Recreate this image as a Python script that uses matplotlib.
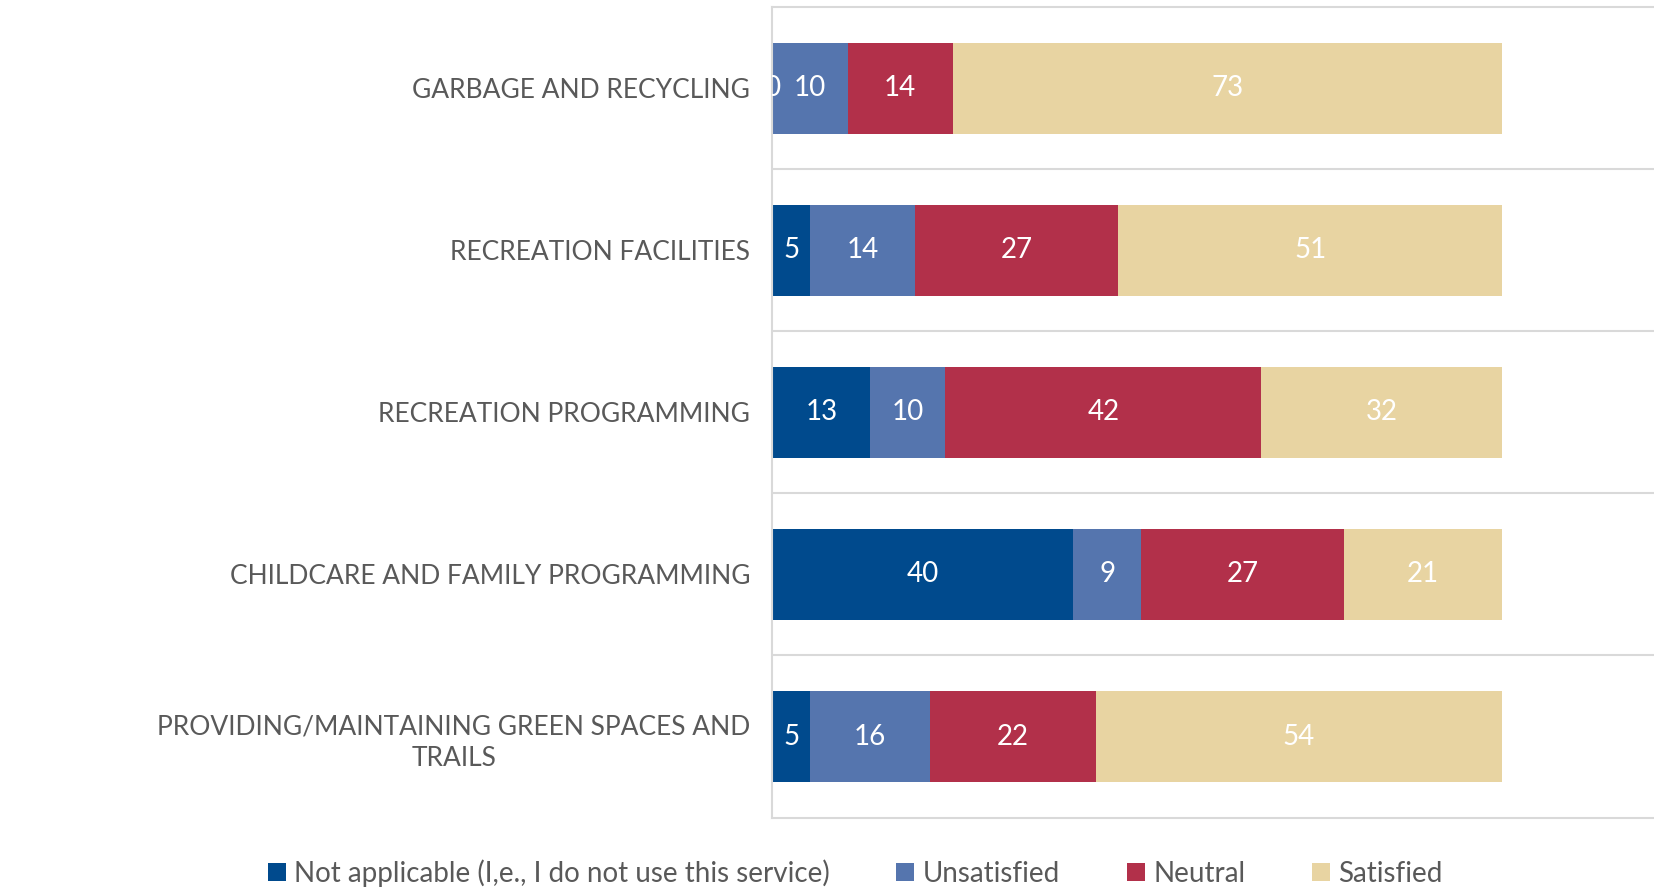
import numpy as np
import matplotlib.pyplot as plt

plt.rcParams['font.family'] = ['Lato', 'DejaVu Sans']

# data (top to bottom as in the chart)
categories = ['GARBAGE AND RECYCLING',
              'RECREATION FACILITIES',
              'RECREATION PROGRAMMING',
              'CHILDCARE AND FAMILY PROGRAMMING',
              'PROVIDING/MAINTAINING GREEN SPACES AND\nTRAILS']
series_names = ['Not applicable (I,e., I do not use this service)',
                'Unsatisfied', 'Neutral', 'Satisfied']
not_applicable = [0, 5, 13, 40, 5]
unsatisfied = [10, 14, 10, 9, 16]
neutral = [14, 27, 42, 27, 22]
satisfied = [73, 51, 32, 21, 54]

colors = ['#004A8D', '#5575AE', '#B2304A', '#E8D4A2']
series = [not_applicable, unsatisfied, neutral, satisfied]

fig = plt.figure(figsize=(16.54, 8.89), dpi=100)
ax = fig.add_axes([0.467, 0.0804, 0.533, 0.9113])

y = np.arange(len(categories))
left = np.zeros(len(categories))
for name, vals, col in zip(series_names, series, colors):
    vals = np.array(vals, dtype=float)
    ax.barh(y, vals, left=left, height=0.56, color=col, label=name)
    for yi, (l, v) in enumerate(zip(left, vals)):
        ax.text(l + v / 2, yi, str(int(v)), ha='center', va='center',
                color='white', fontsize=20, clip_on=True)
    left += vals

ax.set_xlim(0, 117.2)
ax.set_ylim(len(categories) - 0.5, -0.5)
ax.set_yticks(y)
ax.set_yticklabels(categories, fontsize=19, color='#595959',
                   multialignment='center', linespacing=1.35)
ax.tick_params(axis='y', length=0, pad=16)
ax.tick_params(axis='x', bottom=False, labelbottom=False)

ax.set_yticks(np.arange(len(categories) - 1) + 0.5, minor=True)
ax.grid(axis='y', which='minor', color='#D9D9D9', linewidth=1.5)
ax.tick_params(axis='y', which='minor', length=0)
for s in ['top', 'bottom', 'left']:
    ax.spines[s].set_color('#D9D9D9')
    ax.spines[s].set_linewidth(1.5)
ax.spines['right'].set_visible(False)

fig.legend(loc='center', bbox_to_anchor=(0.517, 0.018), ncol=4, frameon=False,
           fontsize=20, handlelength=0.65, handleheight=0.65, handletextpad=0.3,
           columnspacing=2.4, labelcolor='#595959')

fig.savefig('out.png', dpi=100)
